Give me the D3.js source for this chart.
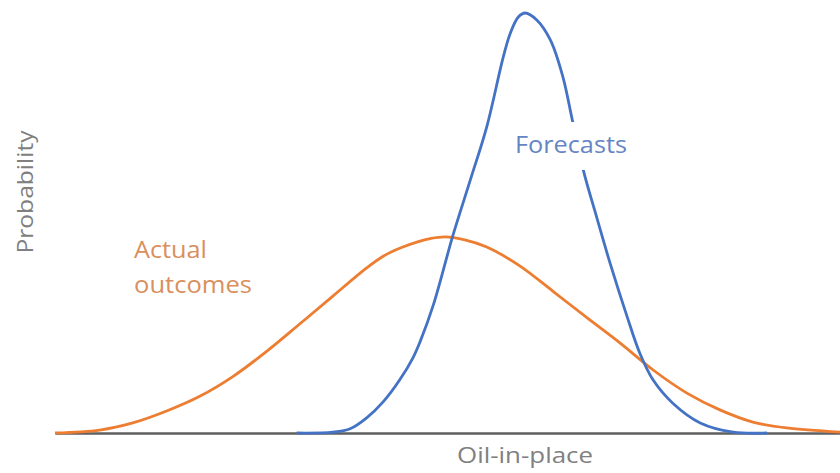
<!DOCTYPE html>
<html>
<head>
<meta charset="utf-8">
<script src="https://cdn.jsdelivr.net/npm/d3@7"></script>
<style>
  body { margin: 0; background: #fff; }
  svg { display: block; font-family: "Open Sans", Lato, sans-serif; }
</style>
</head>
<body>
<div id="chart"></div>
<script>
// Relative oil-in-place (0-100) and relative probability (0-100)
const actualX = [0, 5.7, 9.9, 14.3, 18.5, 22.7, 27.0, 31.2, 35.4, 39.7, 41.8, 43.9, 46.5, 47.8, 49.7, 52.2, 55.0, 59.2, 63.4, 67.8, 72.0, 76.2, 80.5, 84.7, 88.9, 93.2, 100];
const actualY = [0, 0.7, 2.4, 5.3, 8.8, 13.5, 19.5, 26.0, 32.6, 39.3, 42.1, 44.0, 45.7, 46.3, 46.7, 46.0, 44.3, 39.8, 33.8, 27.4, 21.4, 15.0, 9.5, 5.5, 2.6, 1.2, 0.2];

const forecastX = [30.8, 35.4, 37.6, 39.7, 41.8, 43.9, 45.6, 46.5, 48.2, 50.7, 52.9, 55.0, 57.1, 58.0, 59.0, 59.9, 61.4, 63.1, 64.7, 65.9, 67.3, 69.0, 70.7, 72.9, 74.5, 76.2, 78.7, 82.2, 86.4, 90.7];
const forecastY = [0, 0.2, 1.0, 3.6, 7.4, 12.6, 17.9, 21.7, 30.5, 47.1, 60.2, 72.9, 89.5, 95.2, 99.0, 100, 98.3, 93.6, 84.8, 74.5, 62.6, 51.4, 40.5, 27.6, 19.0, 12.6, 7.1, 2.4, 0.2, 0];

const xLabel = "Oil-in-place";
const yLabel = "Probability";
const forecastLabel = "Forecasts";
const actualLabel = ["Actual", "outcomes"];

const width = 840, height = 473;
const margin = {top: 13, right: 0, bottom: 40, left: 55};

const svg = d3.select("#chart").append("svg")
    .attr("width", width)
    .attr("height", height);

const x = d3.scaleLinear().domain([0, 100]).range([margin.left, width - margin.right]);
const y = d3.scaleLinear().domain([0, 100]).range([height - margin.bottom, margin.top]);

const line = d3.line()
    .x(d => x(d[0]))
    .y(d => y(d[1]))
    .curve(d3.curveCatmullRom.alpha(0.5));

const actual = actualX.map((v, i) => [v, actualY[i]]);
const forecast = forecastX.map((v, i) => [v, forecastY[i]]);

// baseline axis
svg.append("g")
    .attr("transform", `translate(0,${y(0)})`)
    .call(d3.axisBottom(x).ticks(0).tickSize(0).tickSizeOuter(0))
    .call(g => g.select(".domain").attr("stroke", "#5f5f5f").attr("stroke-width", 2.5))
    .call(g => g.selectAll(".tick").remove());

svg.append("path")
    .attr("d", line(actual))
    .attr("fill", "none")
    .attr("stroke", "#ed7d31")
    .attr("stroke-width", 2.8);

svg.append("path")
    .attr("d", line(forecast))
    .attr("fill", "none")
    .attr("stroke", "#4472c4")
    .attr("stroke-width", 2.8);

// white box behind the forecast label breaks the blue curve
svg.append("rect")
    .attr("x", 510)
    .attr("y", 122)
    .attr("width", 125)
    .attr("height", 48)
    .attr("fill", "#fff");

function label(txt, px, py, len, color, size) {
    return svg.append("text")
        .attr("x", px)
        .attr("y", py)
        .attr("fill", color)
        .attr("font-size", size)
        .attr("font-weight", 500)
        .attr("textLength", len)
        .attr("lengthAdjust", "spacingAndGlyphs")
        .text(txt);
}

label(forecastLabel, 515, 153, 112, "#6685c4", 23);
label(actualLabel[0], 134, 258, 73, "#d9905e", 23);
label(actualLabel[1], 134, 293, 118, "#d9905e", 23);
label(xLabel, 457, 463, 136, "#808080", 22);

svg.append("text")
    .attr("transform", "translate(33,192) rotate(-90)")
    .attr("text-anchor", "middle")
    .attr("fill", "#808080")
    .attr("font-size", 21)
    .attr("font-weight", 500)
    .attr("textLength", 123)
    .attr("lengthAdjust", "spacingAndGlyphs")
    .text(yLabel);
</script>
</body>
</html>
